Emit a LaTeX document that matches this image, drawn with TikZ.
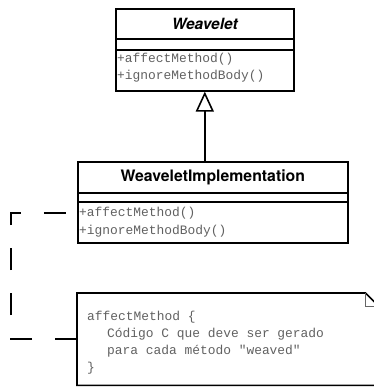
\documentclass[tikz,border=0pt]{standalone}
\usepackage{fontspec}
\setsansfont{TeX Gyre Heros}
\setmonofont{Liberation Mono}
\usetikzlibrary{arrows.meta}
\begin{document}
\begin{tikzpicture}[x=1pt,y=-1pt,
  classbox/.style={draw, line width=1.6pt, rectangle, inner sep=0pt, anchor=north west},
  divider/.style={line width=1.6pt},
  classname/.style={font=\sffamily\bfseries\fontsize{15.8}{18}\selectfont, inner sep=0pt},
  optext/.style={font=\ttfamily\fontsize{12.9}{14}\selectfont, text=black!62, inner sep=0pt, anchor=base west},
  generalization/.style={line width=1.6pt, -{Triangle[open, width=18pt, length=20pt, line width=1.6pt]}},
  notelink/.style={line width=1.6pt, dash pattern=on 22pt off 23pt},
]
\useasboundingbox (0,0) rectangle (374,388);

% abstract class Weavelet
\node[classbox, minimum width=178pt, minimum height=82pt] (weavelet) at (115,8) {};
\draw[divider] ([yshift=-31pt]weavelet.north west) -- ([yshift=-31pt]weavelet.north east);
\draw[divider] ([yshift=-42pt]weavelet.north west) -- ([yshift=-42pt]weavelet.north east);
\node[classname, font=\sffamily\bfseries\itshape\fontsize{15.5}{18}\selectfont] (weavelet-name) at ([yshift=-15.5pt]weavelet.north) {Weavelet};
\node[optext] (weavelet-op1) at (117,62) {+affectMethod()};
\node[optext] (weavelet-op2) at (117,79) {+ignoreMethodBody()};

% concrete class WeaveletImplementation
\node[classbox, minimum width=270pt, minimum height=81pt] (impl) at (77,161) {};
\draw[divider] ([yshift=-32pt]impl.north west) -- ([yshift=-32pt]impl.north east);
\draw[divider] ([yshift=-41pt]impl.north west) -- ([yshift=-41pt]impl.north east);
\node[classname] (impl-name) at ([yshift=-16pt]impl.north) {WeaveletImplementation};
\node[optext] (impl-op1) at (79,216) {+affectMethod()};
\node[optext] (impl-op2) at (79,234) {+ignoreMethodBody()};
\coordinate (hook) at (77,213);

% inheritance arrow
\draw[generalization] (impl.north -| weavelet.south) -- (weavelet.south);

% note with folded corner
\begin{scope}
\clip (0,0) rectangle (374,388);
\node[inner sep=0pt, anchor=north west, minimum width=301pt, minimum height=92pt] (note) at (77,293) {};
\draw[line width=1.6pt] (note.north west) -- ([xshift=-13pt]note.north east)
  -- ([yshift=-13pt]note.north east) -- (note.south east) -- (note.south west) -- cycle;
\draw[line width=0.8pt, black!60] ([xshift=-13pt]note.north east) |- ([yshift=-13pt]note.north east);
\end{scope}
\node[optext] (note-l1) at (87,320) {affectMethod \{};
\node[optext] (note-l2) at (107,337) {Código C que deve ser gerado};
\node[optext] (note-l3) at (107,354) {para cada método "weaved"};
\node[optext] (note-l4) at (87,371) {\}};

% dashed link from the note to the class
\draw[notelink] (note.west) -- ++(-66,0) |- (hook);
\end{tikzpicture}
\end{document}
